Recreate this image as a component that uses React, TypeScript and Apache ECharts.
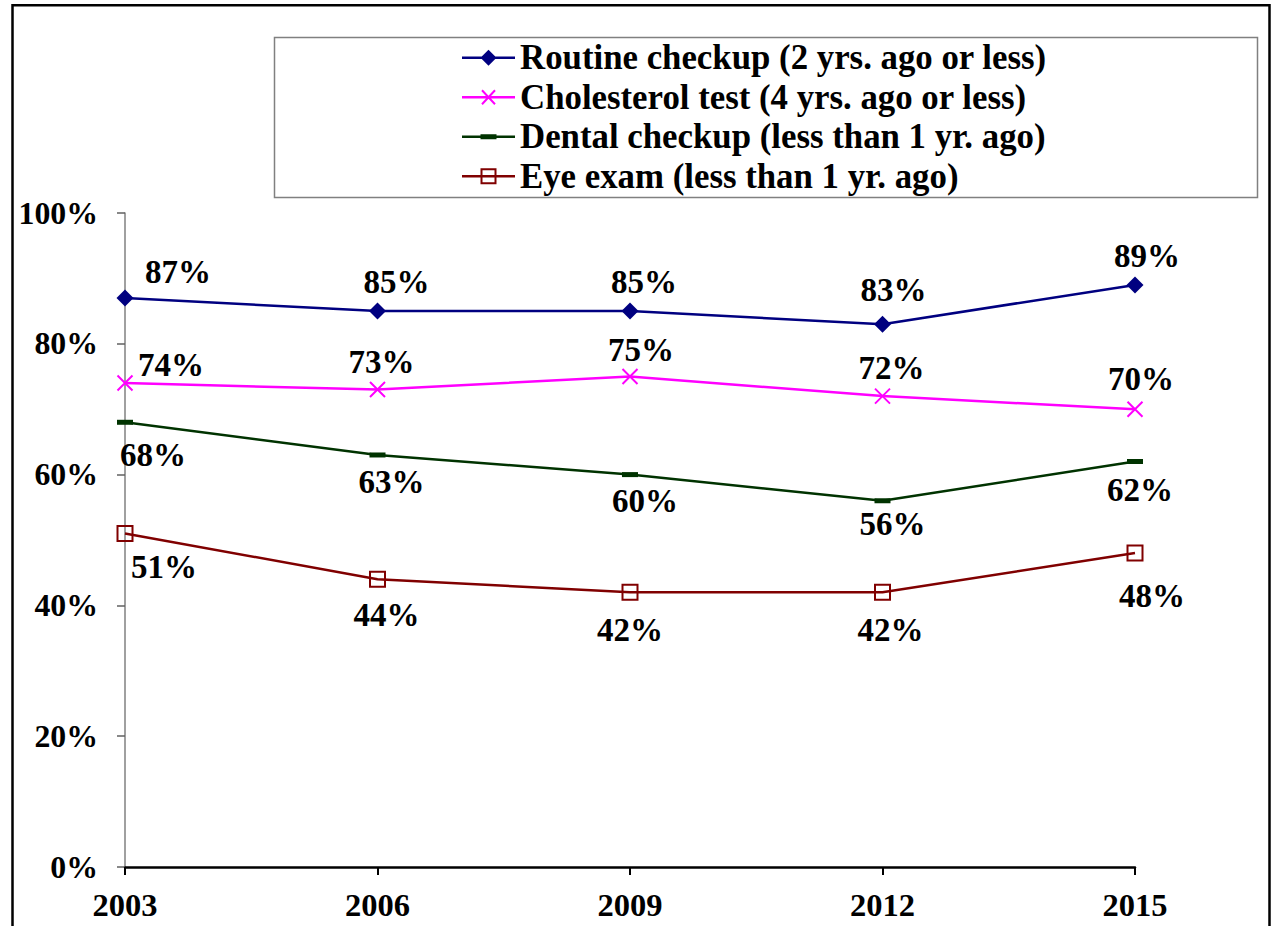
import React, { useEffect, useRef } from "react";
import * as echarts from "echarts";

// ---- data ----
const years = ["2003", "2006", "2009", "2012", "2015"];
const seriesNames = [
  "Routine checkup (2 yrs. ago or less)",
  "Cholesterol test (4 yrs. ago or less)",
  "Dental checkup (less than 1 yr. ago)",
  "Eye exam (less than 1 yr. ago)",
];
const routine = [87, 85, 85, 83, 89];
const cholesterol = [74, 73, 75, 72, 70];
const dental = [68, 63, 60, 56, 62];
const eye = [51, 44, 42, 42, 48];

// ---- layout (label nudges, px) ----
const routineOffsets = [[53, -26], [19, -29], [14, -29], [11, -34], [12, -29]];
const cholOffsets = [[46, -18], [4, -28], [11, -27], [9, -28], [6, -30]];
const dentalOffsets = [[28, 33], [14, 27], [15, 26], [10, 23], [5, 28]];
const eyeOffsets = [[39, 34], [9, 36], [0, 38], [8, 38], [17, 43]];

const FONT = "'Liberation Serif', 'Times New Roman', serif";
const NAVY = "#000080";
const MAGENTA = "#FF00FF";
const GREEN = "#003300";
const DARKRED = "#800000";

// legend icons (53 x 16 box)
const BAND = "M0,6.75H53V9.25H0Z";
const iconRoutine = "path://" + BAND + "M26.5,0L34.5,8L26.5,16L18.5,8Z";
const iconChol =
  "path://" +
  BAND +
  "M20.73,0.32L33.73,14.32L32.27,15.68L19.27,1.68Z" +
  "M33.73,1.68L20.73,15.68L19.27,14.32L32.27,0.32Z";
const iconDental = "path://" + BAND + "M18.5,5.5H34.5V10.5H18.5Z";
const iconEye =
  "path://" + BAND + "M18.5,0H34.5V16H18.5Z" + "M20.5,2V14H32.5V2Z";

function withOffsets(values: number[], offsets: number[][]) {
  return values.map((v, i) => ({ value: v, label: { offset: offsets[i] } }));
}

const labelStyle = {
  show: true,
  position: "inside",
  formatter: "{c}%",
  fontFamily: FONT,
  fontWeight: "bold",
  fontSize: 33,
  color: "#000",
  align: "center",
  verticalAlign: "middle",
};

export default function App() {
  const ref = useRef<HTMLDivElement>(null);
  useEffect(() => {
    if (!ref.current) return;
    const chart = echarts.init(ref.current, null, { renderer: "svg" });
    chart.setOption({
      animation: false,
      backgroundColor: "#fff",
      grid: { left: 125, right: 139, top: 213, bottom: 59, containLabel: false },
      graphic: [
        {
          type: "rect",
          z: -10,
          shape: { x: 12.5, y: 5.3, width: 1257, height: 1000 },
          style: { fill: "none", stroke: "#000", lineWidth: 2.5 },
        },
        {
          type: "rect",
          z: -10,
          shape: { x: 274.5, y: 37.5, width: 983, height: 160 },
          style: { fill: "none", stroke: "#808080", lineWidth: 1.5 },
        },
      ],
      legend: {
        orient: "vertical",
        left: 462,
        top: 38,
        padding: 0,
        itemGap: 0,
        itemWidth: 53,
        itemHeight: 16,
        selectedMode: false,
        textStyle: {
          fontFamily: FONT,
          fontWeight: "bold",
          fontSize: 34.8,
          color: "#000",
          lineHeight: 39.5,
        },
        data: [
          { name: seriesNames[0], icon: iconRoutine, itemStyle: { color: NAVY, borderWidth: 0 } },
          { name: seriesNames[1], icon: iconChol, itemStyle: { color: MAGENTA, borderWidth: 0 } },
          { name: seriesNames[2], icon: iconDental, itemStyle: { color: GREEN, borderWidth: 0 } },
          { name: seriesNames[3], icon: iconEye, itemStyle: { color: DARKRED, borderWidth: 0 } },
        ],
      },
      xAxis: {
        type: "category",
        data: years,
        boundaryGap: false,
        axisLine: { show: true, lineStyle: { color: "#000", width: 2.5 } },
        axisTick: { show: true, length: 8, lineStyle: { color: "#000", width: 2 } },
        axisLabel: {
          fontFamily: FONT,
          fontWeight: "bold",
          fontSize: 32.5,
          color: "#000",
          margin: 21,
        },
        splitLine: { show: false },
      },
      yAxis: {
        type: "value",
        min: 0,
        max: 100,
        interval: 20,
        axisLine: { show: true, lineStyle: { color: "#808080", width: 1.5 } },
        axisTick: { show: true, length: 8, lineStyle: { color: "#606060", width: 1.5 } },
        axisLabel: {
          formatter: "{value}%",
          fontFamily: FONT,
          fontWeight: "bold",
          fontSize: 31.8,
          color: "#000",
          margin: 27,
        },
        splitLine: { show: false },
      },
      series: [
        {
          name: seriesNames[0],
          type: "line",
          data: withOffsets(routine, routineOffsets),
          symbol: "diamond",
          symbolSize: 17,
          lineStyle: { color: NAVY, width: 2.5 },
          itemStyle: { color: NAVY },
          label: labelStyle,
          z: 4,
        },
        {
          name: seriesNames[1],
          type: "line",
          data: withOffsets(cholesterol, cholOffsets),
          symbol: "path://M0,0L14,14M14,0L0,14",
          symbolSize: 15,
          lineStyle: { color: MAGENTA, width: 2.5 },
          itemStyle: { color: "none", borderColor: MAGENTA, borderWidth: 2 },
          label: labelStyle,
          z: 3,
        },
        {
          name: seriesNames[2],
          type: "line",
          data: withOffsets(dental, dentalOffsets),
          symbol: "rect",
          symbolSize: [16, 5],
          lineStyle: { color: GREEN, width: 2.5 },
          itemStyle: { color: GREEN },
          label: labelStyle,
          z: 2,
        },
        {
          name: seriesNames[3],
          type: "line",
          data: withOffsets(eye, eyeOffsets),
          symbol: "rect",
          symbolSize: 15,
          lineStyle: { color: DARKRED, width: 2.5 },
          itemStyle: { color: "none", borderColor: DARKRED, borderWidth: 2 },
          label: labelStyle,
          z: 1,
        },
      ],
    });
    return () => chart.dispose();
  }, []);
  return (
    <div
      ref={ref}
      style={{ position: "fixed", left: 0, top: 0, width: 1274, height: 926, background: "#fff" }}
    />
  );
}
